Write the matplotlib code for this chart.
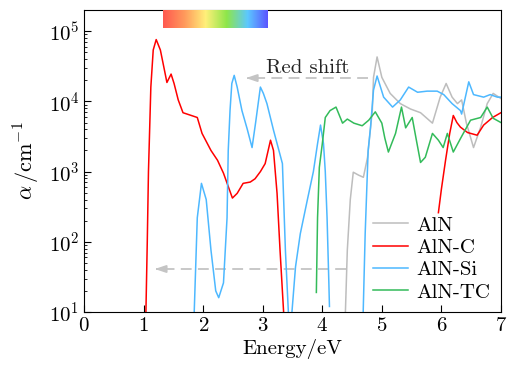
import numpy as np
import matplotlib
matplotlib.use("Agg")
import matplotlib.pyplot as plt
from matplotlib.colors import LinearSegmentedColormap
from matplotlib.ticker import LogLocator

plt.rcParams['font.family'] = 'serif'
plt.rcParams['font.serif'] = ['cmr10']
plt.rcParams['mathtext.fontset'] = 'cm'
plt.rcParams['axes.formatter.use_mathtext'] = True

# --- data (energy in eV, alpha in cm^-1) ---
aln_e = [4.38, 4.42, 4.47, 4.52, 4.61, 4.69, 4.76, 4.84, 4.86, 4.92, 5.0, 5.14, 5.31,
         5.48, 5.65, 5.85, 5.98, 6.08, 6.18, 6.27, 6.34, 6.42, 6.54, 6.66, 6.77, 6.87, 7.0]
aln_a = [6e0, 7.6e1, 4.0e2, 9.8e2, 8.9e2, 8.3e2, 1.6e3, 7.4e3, 2.2e4, 4.3e4, 2.2e4, 1.3e4,
         9.3e3, 7.8e3, 6.9e3, 4.9e3, 1.15e4, 1.8e4, 1.15e4, 9.3e3, 1.05e4, 4.9e3, 2.2e3,
         4.3e3, 9.3e3, 1.3e4, 1.1e4]

alnc_e1 = [1.035, 1.06, 1.08, 1.12, 1.16, 1.21, 1.28, 1.35, 1.39, 1.46, 1.51, 1.58, 1.66,
           1.80, 1.90, 1.98, 2.13, 2.24, 2.34, 2.49, 2.57, 2.67, 2.79, 2.87, 2.96, 3.04,
           3.13, 3.18, 3.24, 3.29, 3.35, 3.37]
alnc_a1 = [8e0, 1.0e2, 1.0e3, 1.6e4, 5.4e4, 7.6e4, 5.4e4, 2.75e4, 1.86e4, 2.45e4, 1.8e4,
           1.05e4, 6.9e3, 6.3e3, 5.9e3, 3.5e3, 2.0e3, 1.45e3, 9.5e2, 4.2e2, 4.9e2, 6.8e2,
           7.1e2, 7.9e2, 1.0e3, 1.3e3, 2.8e3, 2.0e3, 4.9e2, 7.6e1, 1.0e1, 6e0]
alnc_e2 = [5.95, 6.0, 6.07, 6.14, 6.20, 6.26, 6.32, 6.44, 6.6, 6.71, 6.86, 7.0]
alnc_a2 = [2.6e2, 5.6e2, 1.45e3, 3.5e3, 6.3e3, 5.0e3, 4.3e3, 3.6e3, 3.3e3, 4.6e3, 5.9e3, 6.9e3]

alnsi_e1 = [1.84, 1.90, 1.97, 2.05, 2.13, 2.21, 2.26, 2.34, 2.40, 2.42, 2.45, 2.48, 2.52,
            2.57, 2.65, 2.74, 2.82, 2.88, 2.96, 3.01, 3.07, 3.18, 3.33, 3.38, 3.43, 3.46,
            3.49, 3.55, 3.63, 3.75, 3.85, 3.92, 3.97, 4.02, 4.05, 4.08, 4.11, 4.12]
alnsi_a1 = [6e0, 2.2e2, 6.8e2, 4.0e2, 7.6e1, 2.0e1, 1.6e1, 2.6e1, 2.2e2, 2.0e3, 7.4e3,
            1.8e4, 2.35e4, 1.6e4, 7.4e3, 4.0e3, 2.2e3, 5.0e3, 1.6e4, 1.3e4, 9.3e3, 3.9e3,
            1.3e3, 7.6e1, 1.0e1, 3e0, 1.0e1, 4.4e1, 1.3e2, 4.0e2, 1.0e3, 2.5e3, 4.6e3,
            2.5e3, 1.0e3, 2.2e2, 2.6e1, 1.2e1]
alnsi_e2 = [4.68, 4.72, 4.77, 4.81, 4.86, 4.92, 5.03, 5.18, 5.31, 5.45, 5.6, 5.76, 5.93,
            6.04, 6.18, 6.32, 6.34, 6.46, 6.54, 6.71, 6.82, 6.94, 7.0]
alnsi_a2 = [6e0, 1.3e2, 2.0e3, 4.3e3, 1.45e4, 2.3e4, 1.15e4, 8.3e3, 1.05e4, 1.6e4, 1.35e4,
            1.4e4, 1.4e4, 1.25e4, 9.3e3, 7.4e3, 6.6e3, 1.9e4, 1.25e4, 1.15e4, 1.25e4,
            1.15e4, 1.15e4]

alntc_e = [3.90, 3.92, 3.95, 4.0, 4.05, 4.13, 4.23, 4.34, 4.42, 4.53, 4.67, 4.78, 4.89,
           5.0, 5.05, 5.11, 5.23, 5.33, 5.4, 5.51, 5.58, 5.65, 5.73, 5.85, 5.95, 6.03,
           6.1, 6.2, 6.32, 6.49, 6.66, 6.77, 6.87, 7.0]
alntc_a = [1.9e1, 2.2e2, 1.15e3, 2.5e3, 5.9e3, 7.4e3, 8.3e3, 4.9e3, 5.6e3, 4.9e3, 4.5e3,
           5.4e3, 7.1e3, 4.9e3, 3.0e3, 1.9e3, 3.5e3, 8.3e3, 4.2e3, 5.9e3, 2.8e3, 1.35e3,
           1.6e3, 3.5e3, 2.8e3, 2.2e3, 3.5e3, 1.9e3, 2.95e3, 5.4e3, 5.9e3, 8.3e3, 5.75e3,
           5.0e3]

# red shift arrows (energy from/to, alpha level)
shift_upper = (4.76, 2.67, 2.15e4)
shift_lower = (4.39, 1.14, 4.1e1)
visible_band = (1.33, 3.10)

c_aln, c_c, c_si, c_tc = '#bdbdbd', '#ff0000', '#4db8ff', '#33bb5a'

fig = plt.figure(figsize=(5.07, 3.66), dpi=100)
ax = fig.add_axes([0.166, 0.1475, 0.822, 0.825])

lw = 1.1
ax.plot(aln_e, aln_a, color=c_aln, lw=lw, label='AlN')
ax.plot(alnc_e1, alnc_a1, color=c_c, lw=lw, label='AlN-C')
ax.plot(alnc_e2, alnc_a2, color=c_c, lw=lw)
ax.plot(alnsi_e1, alnsi_a1, color=c_si, lw=lw, label='AlN-Si')
ax.plot(alnsi_e2, alnsi_a2, color=c_si, lw=lw)
ax.plot(alntc_e, alntc_a, color=c_tc, lw=lw, label='AlN-TC')

ax.set_yscale('log')
ax.set_xlim(0, 7)
ax.set_ylim(10, 2.0e5)

# dashed red-shift arrows
for x0, x1, y in (shift_upper, shift_lower):
    ax.plot([x0, x1 + 0.12], [y, y], color='#c4c4c4', lw=1.3, dashes=(6, 3.5), zorder=1)
    ax.annotate('', xy=(x1, y), xytext=(x1 + 0.15, y),
                arrowprops=dict(arrowstyle='-|>,head_length=0.65,head_width=0.22',
                                color='#c4c4c4', lw=1.3))
ax.text(3.76, 3.0e4, 'Red shift', fontsize=15, ha='center', va='center', color='#222222')

# visible spectrum strip at top
cmap = LinearSegmentedColormap.from_list('vis', ['#ff5a50', '#ff9a5c', '#fff07a',
                                                 '#8ee64a', '#5cc8ff', '#5a50ff'])
grad = np.linspace(0, 1, 256).reshape(1, -1)
ax.imshow(grad, cmap=cmap, aspect='auto', extent=(visible_band[0], visible_band[1], 0.94, 1.0),
          transform=ax.get_xaxis_transform(), zorder=3)

ax.set_xlabel('Energy/eV', fontsize=15, labelpad=3)
ax.set_ylabel(r'$\alpha\,/\mathrm{cm}^{-1}$', fontsize=16, labelpad=5)
ax.set_xticks(range(8))
ax.yaxis.set_minor_locator(LogLocator(base=10, subs=np.arange(2, 10) * 1.0, numticks=20))
ax.tick_params(which='major', direction='in', length=5, labelsize=15, top=False, right=False)
ax.tick_params(which='minor', direction='in', length=2.5, top=False, right=False)
ax.tick_params(axis='x', which='minor', bottom=False)

ax.legend(loc='lower right', frameon=False, fontsize=15, handlelength=1.7,
          handletextpad=0.4, labelspacing=0.18, borderaxespad=0.1)

fig.savefig('out.png', dpi=100)
